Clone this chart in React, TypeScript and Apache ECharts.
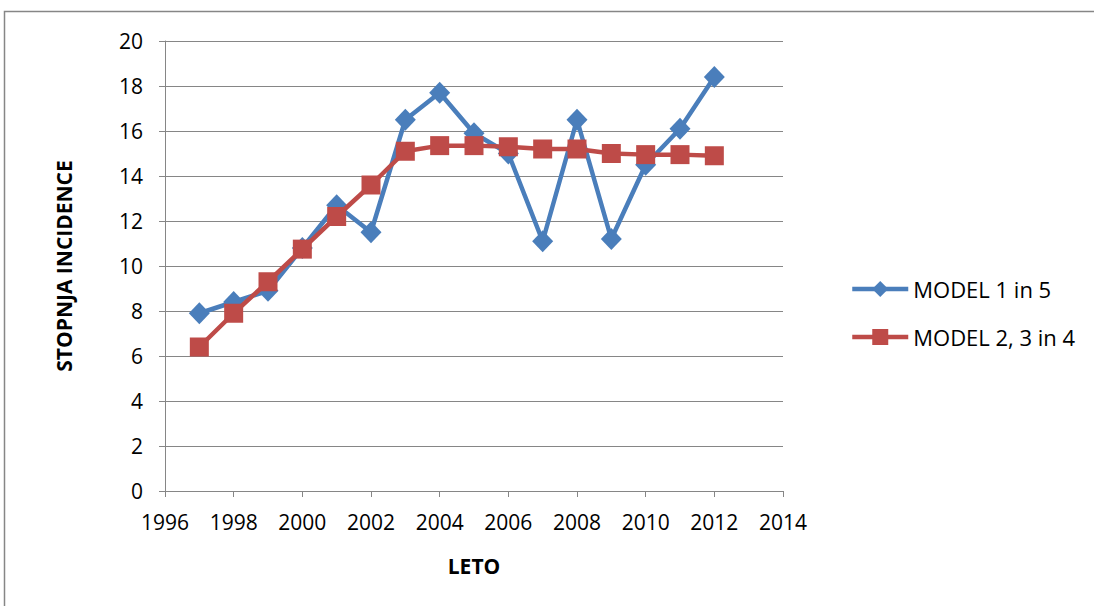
import React, { useEffect, useRef } from "react";
import * as echarts from "echarts";

const years = [1997, 1998, 1999, 2000, 2001, 2002, 2003, 2004, 2005, 2006, 2007, 2008, 2009, 2010, 2011, 2012];
const model15 = [7.9, 8.4, 8.9, 10.8, 12.7, 11.5, 16.5, 17.7, 15.9, 15.0, 11.1, 16.5, 11.2, 14.5, 16.1, 18.4];
const model234 = [6.4, 7.9, 9.3, 10.75, 12.2, 13.6, 15.1, 15.35, 15.35, 15.3, 15.2, 15.2, 15.0, 14.95, 14.95, 14.9];
const seriesNames = ["MODEL 1 in 5", "MODEL 2, 3 in 4"];

const FONT = "'Open Sans', sans-serif";

export default function App() {
  const ref = useRef<HTMLDivElement>(null);

  useEffect(() => {
    document.body.style.margin = "0";
    const chart = echarts.init(ref.current!, null, { renderer: "svg" });
    const pair = (vals: number[]) => years.map((y, i) => [y, vals[i]]);
    chart.setOption({
      animation: false,
      backgroundColor: "#ffffff",
      textStyle: { fontFamily: FONT },
      grid: { left: 165, top: 41, width: 618, height: 450 },
      xAxis: {
        type: "value",
        min: 1996,
        max: 2014,
        interval: 2,
        name: "LETO",
        nameLocation: "middle",
        nameGap: 64,
        nameTextStyle: { fontFamily: FONT, fontSize: 21, fontWeight: "bold", color: "#000" },
        axisLine: { lineStyle: { color: "#868686", width: 1 } },
        axisTick: { show: true, length: 6, lineStyle: { color: "#868686" } },
        axisLabel: {
          color: "#000",
          fontSize: 21,
          margin: 20,
          fontFamily: FONT,
          formatter: (v: number) => String(v),
        },
        splitLine: { show: false },
      },
      yAxis: {
        type: "value",
        min: 0,
        max: 20,
        interval: 2,
        name: "STOPNJA INCIDENCE",
        nameLocation: "middle",
        nameGap: 91,
        nameTextStyle: { fontFamily: FONT, fontSize: 21, fontWeight: "bold", color: "#000" },
        axisLine: { show: true, lineStyle: { color: "#868686", width: 1 } },
        axisTick: { show: true, length: 6, lineStyle: { color: "#868686" } },
        axisLabel: { color: "#000", fontSize: 21, margin: 22, fontFamily: FONT },
        splitLine: { show: true, lineStyle: { color: "#868686", width: 1 } },
      },
      legend: {
        orient: "vertical",
        left: 850,
        top: 278,
        padding: 0,
        itemWidth: 56,
        itemHeight: 20,
        itemGap: 26,
        lineStyle: { width: 4.5 },
        textStyle: { fontFamily: FONT, fontSize: 22, color: "#000" },
        data: seriesNames,
      },
      series: [
        {
          name: seriesNames[0],
          type: "line",
          data: pair(model15),
          symbol: "diamond",
          symbolSize: [21, 22],
          lineStyle: { color: "#4a7ebb", width: 4.5 },
          itemStyle: { color: "#4a7ebb" },
          z: 2,
        },
        {
          name: seriesNames[1],
          type: "line",
          data: pair(model234),
          symbol: "rect",
          symbolSize: 19,
          lineStyle: { color: "#be4b48", width: 4.5 },
          itemStyle: { color: "#be4b48" },
          z: 3,
        },
      ],
      graphic: [
        {
          type: "rect",
          shape: { x: 4.5, y: 11.5, width: 1200, height: 700 },
          style: { fill: "none", stroke: "#868686", lineWidth: 1.5 },
          silent: true,
        },
      ],
    });
    return () => chart.dispose();
  }, []);

  return <div ref={ref} style={{ width: 1094, height: 606 }} />;
}
